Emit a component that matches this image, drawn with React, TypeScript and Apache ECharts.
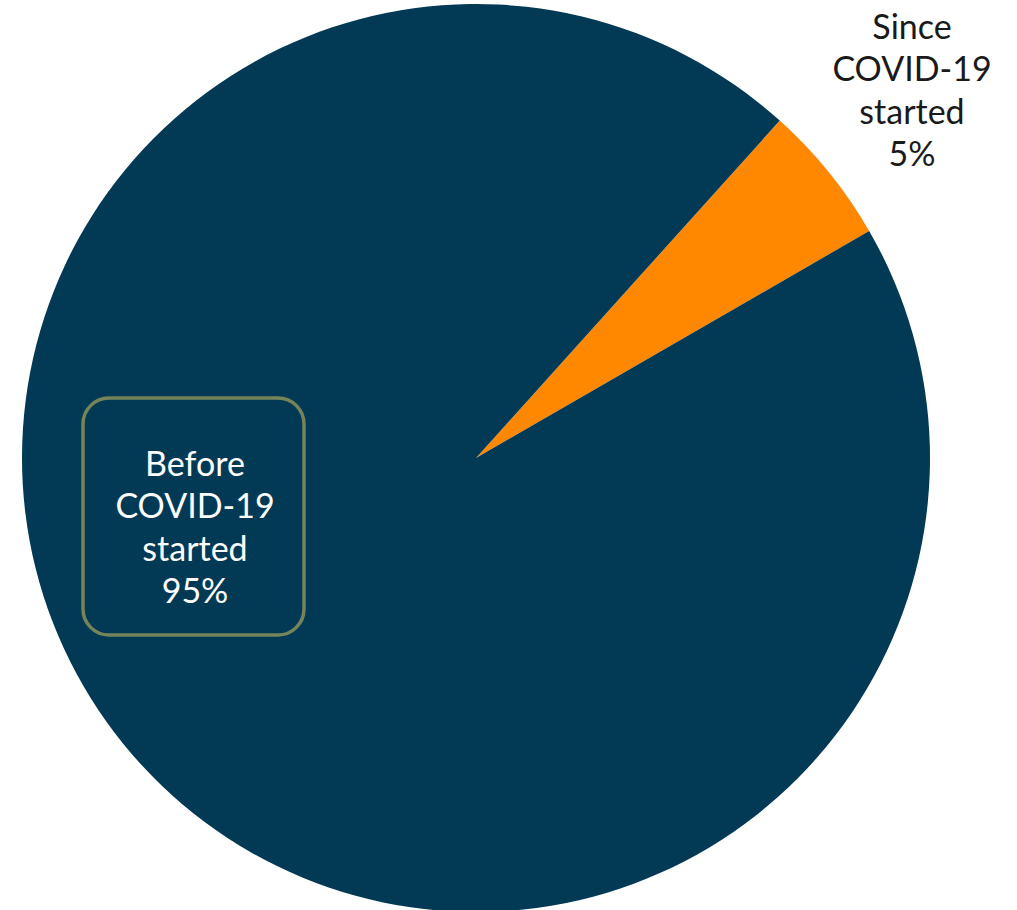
import React, { useEffect, useRef } from "react";
import * as echarts from "echarts";

const categories = ["Since COVID-19 started", "Before COVID-19 started"];
const values = [5, 95];
const labelLines = [
  ["Since", "COVID-19", "started", "5%"],
  ["Before", "COVID-19", "started", "95%"],
];
const colors = ["#FF8800", "#023A56"];

export default function App() {
  const ref = useRef<HTMLDivElement>(null);
  useEffect(() => {
    if (!ref.current) return;
    const chart = echarts.init(ref.current, undefined, { renderer: "svg" });
    const font = "Lato, 'Open Sans', sans-serif";
    chart.setOption({
      animation: false,
      backgroundColor: "#ffffff",
      series: [
        {
          type: "pie",
          center: [476, 458],
          radius: 454,
          startAngle: 48,
          clockwise: true,
          label: { show: false },
          labelLine: { show: false },
          emphasis: { disabled: true },
          data: categories.map((c, i) => ({
            name: c,
            value: values[i],
            itemStyle: { color: colors[i] },
          })),
        },
      ],
      graphic: [
        {
          type: "text",
          z: 100,
          x: 912,
          y: 4,
          style: {
            text: labelLines[0].join("\n"),
            fill: "#1a1a1a",
            font: `34px ${font}`,
            lineHeight: 42.5,
            align: "center",
            verticalAlign: "top",
          },
        },
        {
          type: "rect",
          z: 100,
          shape: { x: 83, y: 398, width: 221, height: 237, r: 26 },
          style: { fill: "none", stroke: "#76845A", lineWidth: 3.5 },
        },
        {
          type: "text",
          z: 101,
          x: 195,
          y: 441,
          style: {
            text: labelLines[1].join("\n"),
            fill: "#ffffff",
            font: `34px ${font}`,
            lineHeight: 42.5,
            align: "center",
            verticalAlign: "top",
          },
        },
      ],
    });
    return () => chart.dispose();
  }, []);
  return (
    <div
      ref={ref}
      style={{ position: "fixed", left: 0, top: 0, width: 1017, height: 910 }}
    />
  );
}
